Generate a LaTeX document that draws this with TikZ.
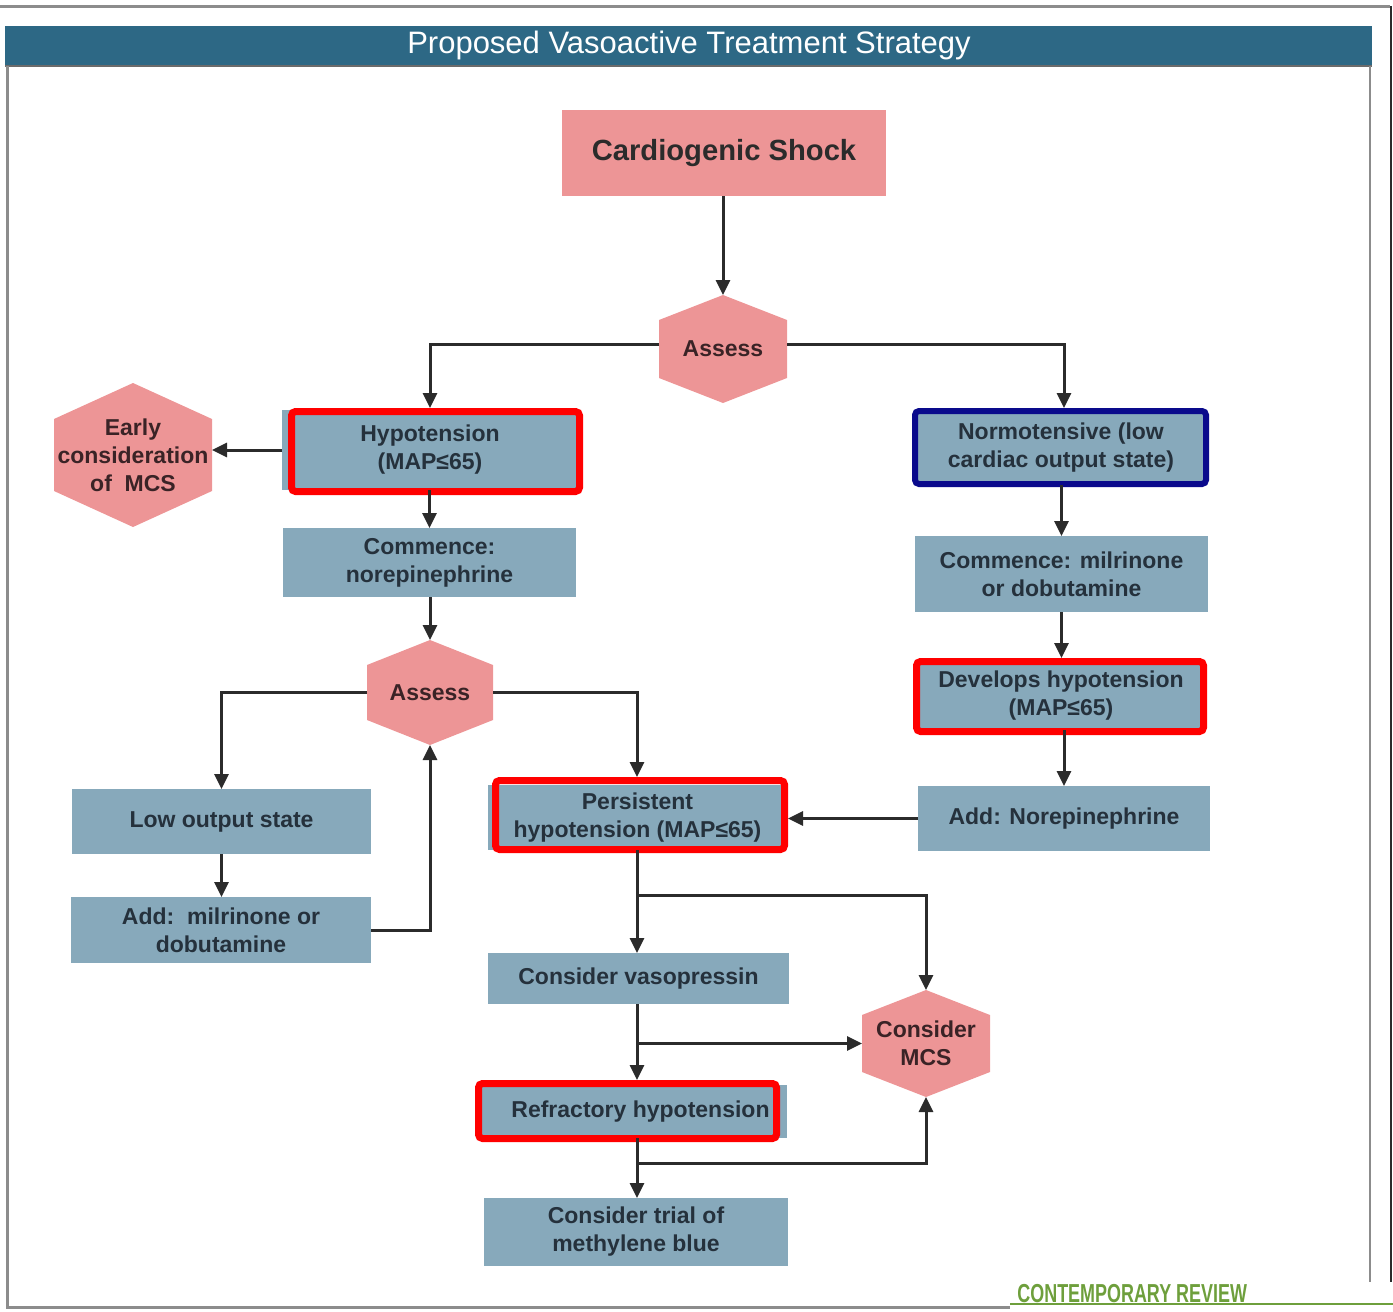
\documentclass[tikz,border=0pt]{standalone}
\usepackage{fontspec}
\setmainfont{Liberation Sans}
\usetikzlibrary{arrows.meta,calc,backgrounds}
\definecolor{boxblue}{HTML}{87A9BB}
\definecolor{boxtext}{HTML}{25313C}
\definecolor{hexpink}{HTML}{ED9596}
\definecolor{hextext}{HTML}{3A2326}
\definecolor{hlred}{HTML}{FF0000}
\definecolor{hlnavy}{HTML}{0A0A8C}
\definecolor{linec}{HTML}{2B2B2B}
\definecolor{titlebar}{HTML}{2D6885}
\definecolor{framegray}{HTML}{8C8C8C}
\definecolor{revgreen}{HTML}{6E9F3C}
\newcommand\bodyfont{\fontsize{11.5}{14}\selectfont\bfseries}
\newcommand\hexfill[2]{\fill[hexpink] (#1.north) -- ($(#1.north east)+(0,#2)$) -- ($(#1.south east)+(0,-#2)$) -- (#1.south) -- ($(#1.south west)+(0,-#2)$) -- ($(#1.north west)+(0,#2)$) -- cycle;}
\tikzset{
  bx/.style={rectangle, fill=boxblue, text=boxtext, font=\bodyfont, align=center, inner sep=0pt, outer sep=0pt},
  hexn/.style={rectangle, inner sep=0pt, outer sep=0pt, text=hextext, font=\bodyfont, align=center},
  hl/.style={rectangle, draw=hlred, line width=3.5pt, rounded corners=2pt, inner sep=0pt},
  hlb/.style={hl, draw=hlnavy, line width=3pt},
  arr/.style={draw=linec, line width=1.5pt, -{Triangle[length=7.5pt,width=7pt]}},
  ln/.style={draw=linec, line width=1.5pt}
}
\begin{document}
\begin{tikzpicture}[x=0.5pt,y=-0.5pt]
\useasboundingbox (0,0) rectangle (1393,1312);
% frame
\draw[framegray, line width=1.5pt] (0,6) -- (1390,6);
\draw[linec, line width=1pt] (1391,6) -- (1391,1282);
\fill[titlebar] (5,26) rectangle (1372,66);
\draw[linec!70, line width=1pt] (5,66) -- (1372,66);
\node[text=white, font=\fontsize{15.5}{18}\selectfont] (title) at (689,45) {Proposed Vasoactive Treatment Strategy};
\draw[framegray, line width=1.5pt] (7,66) -- (7,1307) -- (1010,1307);
\draw[framegray, line width=1pt] (1370,66) -- (1370,1282);
\draw[revgreen, line width=1pt] (1010,1304) -- (1393,1304);
\node[anchor=base west, inner sep=0pt, text=revgreen, font=\fontsize{13}{14}\selectfont\bfseries] (rev) at (1017,1302) {\scalebox{0.69}[1]{CONTEMPORARY REVIEW}};

% boxes
\node[bx, fill=hexpink, text=linec, font=\fontsize{14.6}{17}\selectfont\bfseries, minimum width=162pt, minimum height=43pt] (cardio) at (724,153) {Cardiogenic Shock};
\node[bx, minimum width=148pt, minimum height=40pt] (hyp) at (430,450) {Hypotension\\(MAP≤65)};
\node[bx, minimum width=146pt, minimum height=37.5pt] (nor) at (1061,447.5) {Normotensive (low\\cardiac output state)};
\node[bx, minimum width=146.5pt, minimum height=34.5pt] (cnor) at (429.5,562.5) {Commence:\\norepinephrine};
\node[bx, minimum width=146.5pt, minimum height=38pt] (cmil) at (1061.5,574) {Commence: milrinone\\or dobutamine};
\node[bx, minimum width=144pt, minimum height=34pt] (dev) at (1061,696) {Develops hypotension\\(MAP≤65)};
\node[bx, minimum width=149.5pt, minimum height=32.5pt] (low) at (221.5,821.5) {Low output state};
\node[bx, minimum width=149.5pt, minimum height=32.5pt] (pers) at (637.5,817.5) {Persistent\\hypotension (MAP≤65)};
\node[bx, minimum width=146pt, minimum height=32.5pt] (addnor) at (1064,818.5) {Add: Norepinephrine};
\node[bx, minimum width=150pt, minimum height=33pt] (addmil) at (221,930) {Add:\ \ milrinone or\\dobutamine};
\node[bx, minimum width=150.5pt, minimum height=25.5pt] (vaso) at (638.5,978.5) {Consider vasopressin};
\node[bx, minimum width=152.5pt, minimum height=26.5pt] (refr) at (634.5,1111.5) {\hspace{6pt}Refractory hypotension};
\node[bx, minimum width=152pt, minimum height=34pt] (meth) at (636,1232) {Consider trial of\\methylene blue};

% hexagons
\node[hexn, minimum width=64pt, minimum height=54pt] (as1) at (723,349) {Assess};
\node[hexn, minimum width=79pt, minimum height=72pt] (early) at (133,455) {Early\\consideration\\of\ \ MCS};
\node[hexn, minimum width=63pt, minimum height=52.5pt] (as2) at (430,692.5) {Assess};
\node[hexn, minimum width=64pt, minimum height=53.5pt] (cmcs) at (926,1043.5) {Consider\\MCS};
\begin{scope}[on background layer]
\hexfill{as1}{25}
\hexfill{early}{36}
\hexfill{as2}{25}
\hexfill{cmcs}{25}
\end{scope}

% highlight frames
\node[hl, minimum width=144pt, minimum height=40pt] (hlhyp) at (435.5,451.5) {};
\node[hlb, minimum width=145.5pt, minimum height=36.5pt] (hlnor) at (1060.5,447.5) {};
\node[hl, minimum width=143.5pt, minimum height=35pt] (hldev) at (1060,696.5) {};
\node[hl, minimum width=144.5pt, minimum height=34.5pt] (hlpers) at (640,815) {};
\node[hl, minimum width=149pt, minimum height=27.5pt] (hlrefr) at (627.5,1111) {};

% junctions
\coordinate (j1) at (637,895);
\coordinate (j2) at (637,1043.5);
\coordinate (j3) at (637,1163);

% connectors
\draw[arr] (as1.north |- cardio.south) -- (as1.north);
\draw[arr] ($(as1.west)+(0,-5)$) -| (hyp.north |- hlhyp.north);
\draw[arr] ($(as1.east)+(0,-5)$) -| (1064,0 |- hlnor.north);
\draw[arr] (hyp.west) -- (hyp.west -| early.east);
\draw[arr] (cnor.north |- hyp.south) -- (cnor.north);
\draw[arr] (as2.north |- cnor.south) -- (as2.north);
\draw[arr] (as2.west) -| (low.north);
\draw[arr] (as2.east) -| (j1 |- hlpers.north);
\draw[arr] (low.south) -- (low.south |- addmil.north);
\draw[arr] (addmil.east) -| (as2.south);
\draw[arr] (cmil.north |- nor.south) -- (cmil.north);
\draw[arr] (cmil.south) -- (cmil.south |- hldev.north);
\draw[arr] (addnor.north |- dev.south) -- (addnor.north);
\draw[arr] (addnor.west) -- (addnor.west -| hlpers.east);
\draw[arr] (j1 |- pers.south) -- (j1 |- vaso.north);
\draw[arr] (j1) -| (cmcs.north);
\draw[arr] (j2 |- vaso.south) -- (j2 |- hlrefr.north);
\draw[arr] (j2) -- (cmcs.west);
\draw[arr] (j3 |- refr.south) -- (j3 |- meth.north);
\draw[arr] (j3) -| (cmcs.south);
\end{tikzpicture}
\end{document}
